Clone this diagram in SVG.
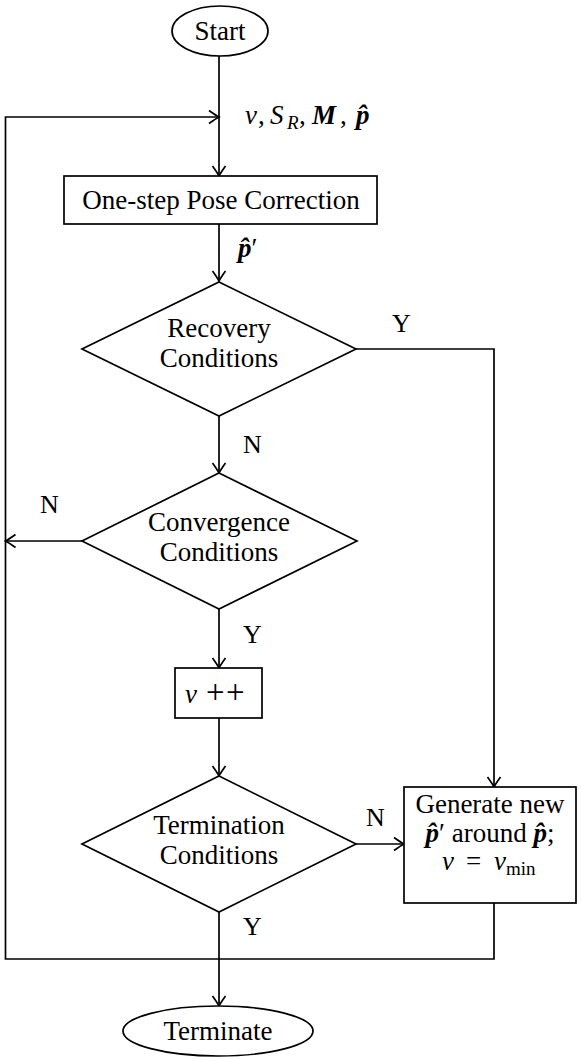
<svg xmlns="http://www.w3.org/2000/svg" width="582" height="1060" viewBox="0 0 582 1060">
<style>
.shape{fill:#fff;stroke:#000;stroke-width:1.7}
.edge{fill:none;stroke:#000;stroke-width:1.7}
text{font-family:"Liberation Serif","DejaVu Serif","Times New Roman",serif;font-size:27px;fill:#000}
.c{text-anchor:middle}
.lbl{font-size:26px}
.it{font-style:italic}
.bi{font-style:italic;font-weight:bold}
</style>
<defs>
<marker id="arr" markerUnits="userSpaceOnUse" viewBox="-12 -8 14 16" refX="0" refY="0" markerWidth="14" markerHeight="16" orient="auto">
<path d="M-10,-6.5 Q-3,-1.5 0,0 Q-3,1.5 -10,6.5" fill="none" stroke="#000" stroke-width="1.7"/>
</marker>
</defs>
<rect width="582" height="1060" fill="#fff"/>
<g id="connectors">
<path class="edge" d="M219,56 V176" marker-end="url(#arr)"/>
<path class="edge" d="M494,903 V959 H5.5 V117 H219" marker-end="url(#arr)"/>
<path class="edge" d="M219,224 V281" marker-end="url(#arr)"/>
<path class="edge" d="M356,349 H494 V787" marker-end="url(#arr)"/>
<path class="edge" d="M219,416 V473" marker-end="url(#arr)"/>
<path class="edge" d="M82,541 H5.5" marker-end="url(#arr)"/>
<path class="edge" d="M219,609 V668" marker-end="url(#arr)"/>
<path class="edge" d="M219,718 V776" marker-end="url(#arr)"/>
<path class="edge" d="M356,844 H404" marker-end="url(#arr)"/>
<path class="edge" d="M219,912 V1006" marker-end="url(#arr)"/>
<text x="245" y="124"><tspan class="it">ν</tspan><tspan x="258">,</tspan><tspan x="270" class="it">S</tspan><tspan x="287" class="it" font-size="19" dy="5">R</tspan><tspan x="299" dy="-5">,</tspan><tspan x="312" class="bi">M</tspan><tspan x="340">,</tspan><tspan x="356" class="bi">p&#x302;</tspan></text>
<text x="238" y="257"><tspan class="bi">p&#x302;</tspan><tspan>′</tspan></text>
<text class="lbl" x="392" y="332">Y</text>
<text class="lbl" x="243" y="453">N</text>
<text class="lbl" x="40" y="513">N</text>
<text class="lbl" x="243" y="643">Y</text>
<text class="lbl" x="366" y="826">N</text>
<text class="lbl" x="243" y="935">Y</text>
</g>
<g id="start">
<ellipse class="shape" cx="220" cy="31" rx="48" ry="25"/>
<text class="c" x="220" y="40">Start</text>
</g>
<g id="pose-correction">
<rect class="shape" x="64" y="176" width="313" height="48"/>
<text class="c" x="221" y="209">One-step Pose Correction</text>
</g>
<g id="recovery">
<polygon class="shape" points="219,282 356,349 219,416 82,349"/>
<text class="c" x="219" y="337">Recovery</text>
<text class="c" x="219" y="367">Conditions</text>
</g>
<g id="convergence">
<polygon class="shape" points="219,473 357,541 219,609 82,541"/>
<text class="c" x="219" y="531">Convergence</text>
<text class="c" x="219" y="561">Conditions</text>
</g>
<g id="increment">
<rect class="shape" x="175" y="668" width="87" height="50"/>
<text x="185" y="703"><tspan class="it">ν</tspan><tspan x="206" font-size="33">+</tspan><tspan x="226" font-size="33">+</tspan></text>
</g>
<g id="termination">
<polygon class="shape" points="219,776 356,844 219,912 82,844"/>
<text class="c" x="219" y="834">Termination</text>
<text class="c" x="219" y="864">Conditions</text>
</g>
<g id="generate">
<rect class="shape" x="404" y="787" width="172" height="116"/>
<text class="c" x="490" y="813">Generate new</text>
<text class="c" x="490" y="842"><tspan class="bi">p&#x302;</tspan>′ around <tspan class="bi">p&#x302;</tspan>;</text>
<text x="442" y="870"><tspan class="it">ν</tspan><tspan x="466">=</tspan><tspan x="494" class="it">ν</tspan><tspan font-size="19" dy="5">min</tspan></text>
</g>
<g id="terminate">
<ellipse class="shape" cx="218" cy="1031" rx="95" ry="25"/>
<text class="c" x="218" y="1040">Terminate</text>
</g>
</svg>
